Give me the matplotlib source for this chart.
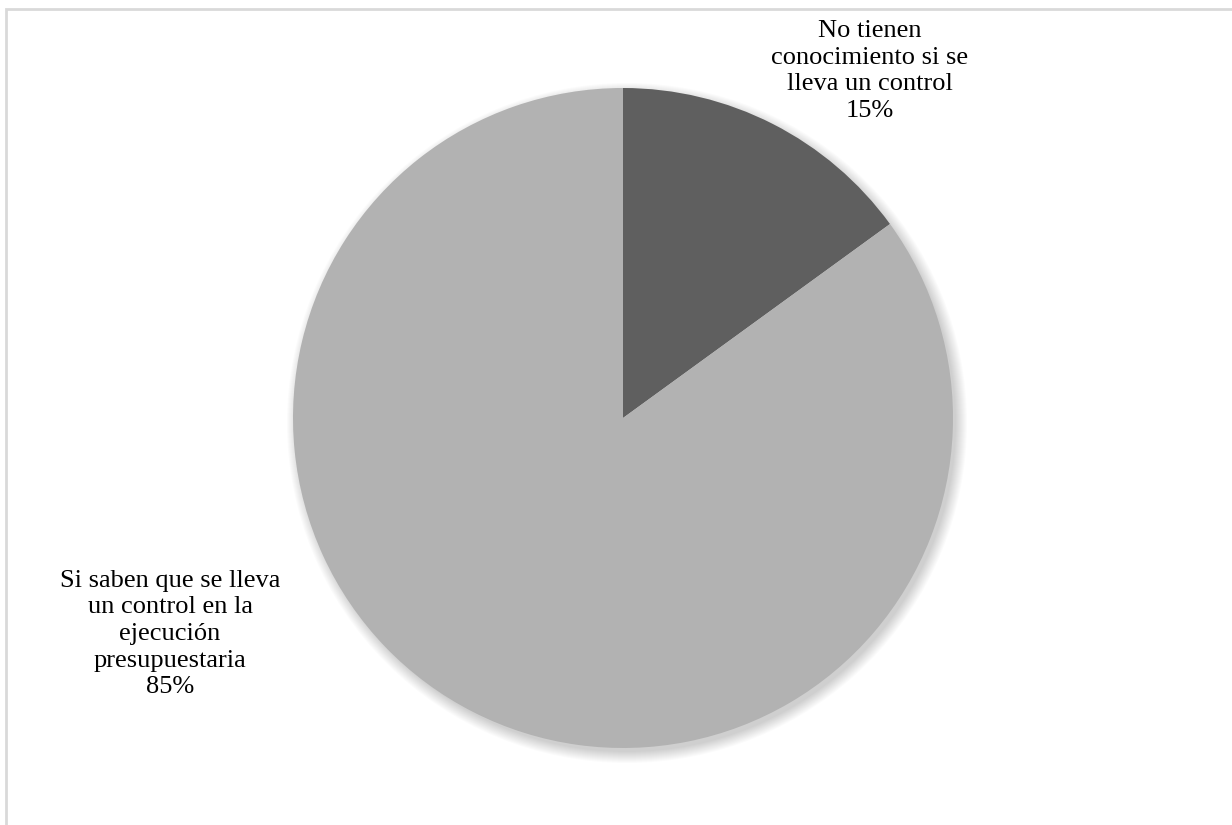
import matplotlib.pyplot as plt
from matplotlib.patches import Circle, Rectangle

labels = ['No tienen\nconocimiento si se\nlleva un control',
          'Si saben que se lleva\nun control en la\nejecución\npresupuestaria']
values = [15, 85]
colors = ['#5f5f5f', '#b2b2b2']

W, H = 1232, 825
fig = plt.figure(figsize=(W / 100, H / 100), dpi=100)
ax = fig.add_axes([0, 0, 1, 1])

# chart frame
ax.add_patch(Rectangle((6, -20), W + 20, H - 9 + 20, fill=False,
                       edgecolor='#d9d9d9', linewidth=2))

cx, cy, r = 623, H - 418, 330

# soft shadow
for i in range(12):
    ax.add_patch(Circle((cx + 4, cy - 5), r + 10 - i, color='black',
                        alpha=0.014, linewidth=0, zorder=1))

wedges, _ = ax.pie(values, colors=colors, startangle=90, counterclock=False,
                   center=(cx, cy), radius=r, frame=True,
                   wedgeprops=dict(linewidth=0, zorder=2))
ax.set_xlim(0, W)
ax.set_ylim(0, H)
ax.set_aspect('equal')
ax.axis('off')

total = sum(values)
label_pos = [(870, H - 71), (170, H - 634)]
for lab, v, (x, y) in zip(labels, values, label_pos):
    ax.text(x, y, f'{lab}\n{round(100 * v / total)}%', ha='center', va='center',
            fontsize=19, family='Liberation Serif', color='#000000',
            linespacing=1.27, zorder=3)

fig.savefig('out.png', dpi=100)
